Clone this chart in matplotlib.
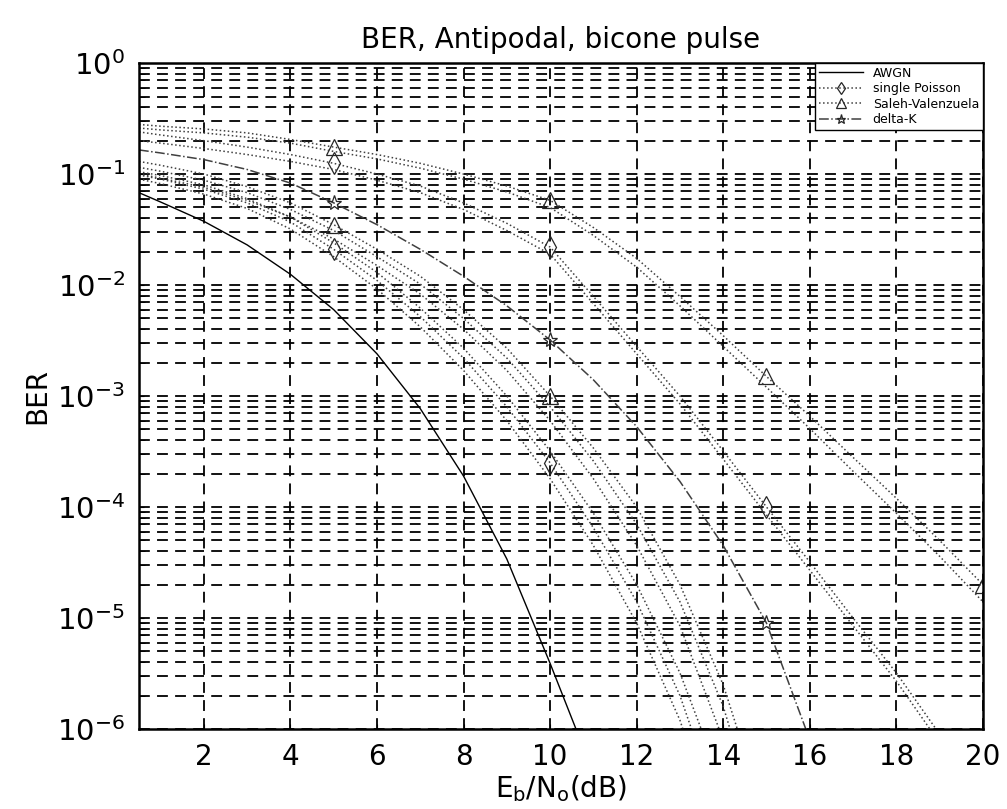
import numpy as np
import matplotlib
matplotlib.use('Agg')
import matplotlib.pyplot as plt

# Eb/No axis (dB) shared by all curves
ebno = [0.5, 1, 2, 3, 4, 5, 6, 7, 8, 9, 10, 11, 12, 13, 14, 15, 16, 17, 18, 19, 20]

# BER values (curves stop just below 1e-6)
ber_awgn = [0.068, 0.056, 0.0375, 0.023, 0.0125, 0.006, 0.0024, 7.7e-4, 1.9e-4, 3.4e-5, 3.9e-6, 4e-7]

ber_f1 = [0.28, 0.27, 0.255, 0.235, 0.205, 0.175, 0.15, 0.125, 0.1, 0.078, 0.058,
          0.033, 0.0174, 7.9e-3, 3.5e-3, 1.5e-3, 6.6e-4, 2.8e-4, 1.2e-4, 5e-5, 2e-5]
ber_f2 = [0.26, 0.25, 0.235, 0.215, 0.19, 0.16, 0.137, 0.113, 0.09, 0.069, 0.05,
          0.028, 0.0145, 6.5e-3, 2.8e-3, 1.2e-3, 5.1e-4, 2.1e-4, 8.8e-5, 3.6e-5, 1.4e-5]
ber_e1 = [0.24, 0.225, 0.2, 0.175, 0.15, 0.125, 0.1, 0.078, 0.055, 0.036, 0.022,
          7.9e-3, 2.8e-3, 1e-3, 3.2e-4, 1e-4, 3.2e-5, 1e-5, 3.2e-6, 9e-7, 2e-7]
ber_e2 = [0.2, 0.19, 0.17, 0.15, 0.13, 0.11, 0.088, 0.068, 0.048, 0.031, 0.019,
          6.8e-3, 2.4e-3, 8.5e-4, 2.7e-4, 8.5e-5, 2.7e-5, 8.5e-6, 2.7e-6, 7.5e-7, 1.5e-7]
ber_d = [0.165, 0.155, 0.135, 0.11, 0.083, 0.055, 0.035, 0.021, 0.012, 6.5e-3, 3.2e-3,
         1.4e-3, 5.3e-4, 1.7e-4, 4.5e-5, 9e-6, 8e-7]
ber_c1 = [0.13, 0.12, 0.1, 0.077, 0.055, 0.035, 0.021, 0.012, 6e-3, 2.7e-3, 1.0e-3,
          3.4e-4, 1e-4, 2e-5, 2.5e-6, 1.5e-7]
ber_c2 = [0.115, 0.106, 0.088, 0.068, 0.048, 0.031, 0.018, 0.0102, 5e-3, 2.2e-3, 8e-4,
          2.6e-4, 7e-5, 1.4e-5, 1.6e-6, 8e-8]
ber_c3 = [0.1, 0.092, 0.076, 0.058, 0.041, 0.026, 0.015, 8.3e-3, 4e-3, 1.7e-3, 6e-4,
          1.8e-4, 4.5e-5, 8.5e-6, 8e-7]
ber_b1 = [0.098, 0.09, 0.073, 0.055, 0.037, 0.021, 0.011, 5.2e-3, 2.2e-3, 8e-4, 2.5e-4,
          6.5e-5, 1.4e-5, 2e-6, 1.5e-7]
ber_b2 = [0.09, 0.082, 0.066, 0.049, 0.032, 0.018, 9.2e-3, 4.2e-3, 1.7e-3, 6e-4, 1.8e-4,
          4.5e-5, 9e-6, 1.2e-6, 8e-8]
ber_b3 = [0.105, 0.097, 0.08, 0.06, 0.041, 0.024, 0.013, 6.2e-3, 2.7e-3, 1e-3, 3.2e-4,
          8.8e-5, 2e-5, 3.2e-6, 3e-7]

legend_labels = ['AWGN', 'single Poisson', 'Saleh-Valenzuela', 'delta-K']

# (values, linestyle, marker, legend label)
curves = [
    (ber_b1, ':', 'd', legend_labels[1]),
    (ber_b2, ':', None, None),
    (ber_b3, ':', None, None),
    (ber_c1, ':', '^', legend_labels[2]),
    (ber_c2, ':', None, None),
    (ber_c3, ':', None, None),
    (ber_d, '-.', '*', legend_labels[3]),
    (ber_e1, ':', 'd', None),
    (ber_e2, ':', None, None),
    (ber_f1, ':', '^', None),
    (ber_f2, ':', None, None),
]

fig = plt.figure(figsize=(10.07, 8.09), dpi=100)
ax = fig.add_axes([0.138, 0.099, 0.838, 0.823])

ax.semilogy(ebno[:len(ber_awgn)], ber_awgn, '-', color='k', lw=1.0, label=legend_labels[0])
for vals, ls, mk, lab in curves:
    n = len(vals)
    marks = [i for i in (5, 10, 15, 20) if i < n]
    ax.semilogy(ebno[:n], vals, linestyle=ls, color='0.25', lw=1.1,
                marker=mk, markevery=marks if mk else None, markersize=11,
                markerfacecolor='none', markeredgecolor='0.15', markeredgewidth=0.9,
                label=lab)

ax.set_xlim(0.5, 20)
ax.set_ylim(1e-6, 1)
ax.set_xticks([2, 4, 6, 8, 10, 12, 14, 16, 18, 20])
ax.set_yticks([10.0 ** -k for k in range(6, -1, -1)])
ax.set_yticklabels([r'$10^{%d}$' % -k if k else r'$10^{0}$' for k in range(6, -1, -1)])

ax.grid(True, which='major', color='k', linestyle=(0, (6, 4)), lw=1.3)
ax.grid(True, which='minor', axis='y', color='k', linestyle=(0, (6, 4)), lw=1.3)
ax.tick_params(axis='both', which='both', direction='in')
ax.tick_params(axis='y', which='major', labelsize=21, pad=10)
ax.tick_params(axis='x', which='major', labelsize=20, pad=10)
ax.tick_params(axis='y', which='minor', length=4)
for sp in ax.spines.values():
    sp.set_linewidth(1.8)

ax.set_title('BER, Antipodal, bicone pulse', fontsize=20, pad=11)
ax.set_xlabel(r'E$_\mathrm{b}$/N$_\mathrm{o}$(dB)', fontsize=20, labelpad=2)
ax.set_ylabel('BER', fontsize=20, labelpad=4)

leg = ax.legend(loc='upper right', fontsize=9, fancybox=False, framealpha=1,
                edgecolor='k', borderaxespad=0.0, handlelength=3.5, borderpad=0.3,
                labelspacing=0.2, markerscale=0.6, handletextpad=0.8)
leg.get_frame().set_linewidth(1.0)

fig.savefig('out.png', dpi=100)
